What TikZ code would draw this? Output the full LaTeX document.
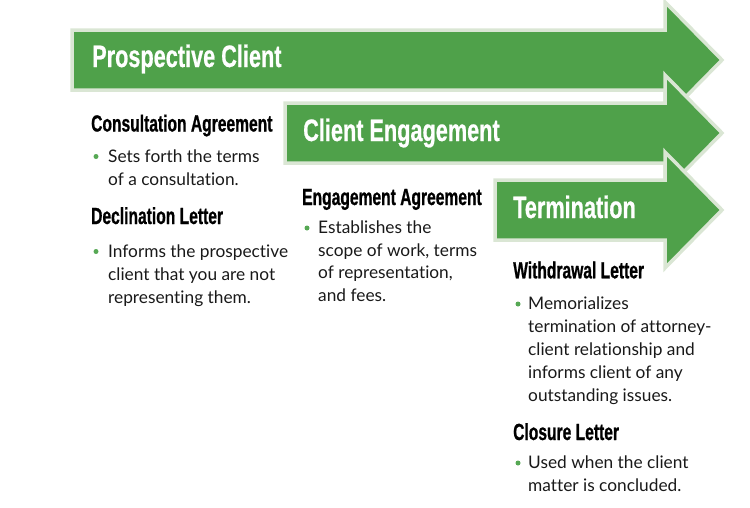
\documentclass[tikz,border=0pt]{standalone}
\usepackage{fontspec}
\setmainfont{Lato}[Ligatures={NoCommon}]
\newfontfamily\headfont{Liberation Sans}[UprightFont={* Bold},FakeStretch=0.70,FakeBold=0.6]
\newfontfamily\subfont{Liberation Sans}[UprightFont={* Bold},FakeStretch=0.67,FakeBold=0.8]
\definecolor{agreen}{RGB}{79,161,74}
\definecolor{aborder}{RGB}{218,230,212}
\definecolor{dotgreen}{RGB}{86,168,84}
\definecolor{txt}{RGB}{25,25,25}
\tikzset{
  arrowshape/.style={fill=agreen, draw=aborder, line width=3.5pt, line join=miter},
  titletext/.style={anchor=base west, inner sep=0pt, text=white, font=\headfont\fontsize{31}{31}\selectfont},
  headtext/.style={anchor=base west, inner sep=0pt, text=black, font=\subfont\fontsize{23.3}{23.3}\selectfont},
  bodytext/.style={anchor=base west, inner sep=0pt, text=txt, align=left, font=\fontsize{17.3}{22.8}\selectfont},
  bdot/.style={circle, fill=dotgreen, inner sep=0pt, minimum size=5pt}
}
\begin{document}
\begin{tikzpicture}[x=1pt,y=-1pt]
\useasboundingbox (0,0) rectangle (750,507);
% arrows
\draw[arrowshape] (72,30) -- (665,30) -- (665,2) -- (722,60) -- (665,118) -- (665,90) -- (72,90) -- cycle;
\draw[arrowshape] (285,103) -- (665,103) -- (665,75) -- (722,133) -- (665,191) -- (665,163) -- (285,163) -- cycle;
\draw[arrowshape] (495,180) -- (665,180) -- (665,152) -- (722,210) -- (665,268) -- (665,240) -- (495,240) -- cycle;
\node[titletext] (t1) at (92,67) {Prospective Client};
\node[titletext] (t2) at (303,141) {Client Engagement};
\node[titletext] (t3) at (513,218) {Termination};
% column 1
\node[headtext] (h1) at (91,131.5) {Consultation Agreement};
\node[bdot] (d1) at (96,156.5) {};
\node[bodytext] (b1) at (108,185) {Sets forth the terms\\of a consultation.};
\node[headtext] (h2) at (91,224) {Declination Letter};
\node[bdot] (d2) at (96,251.5) {};
\node[bodytext] (b2) at (108,303) {Informs the prospective\\client that you are not\\representing them.};
% column 2
\node[headtext] (h3) at (302,205) {Engagement Agreement};
\node[bdot] (d3) at (307,228) {};
\node[bodytext] (b3) at (318,301.7) {Establishes the\\scope of work, terms\\of representation,\\and fees.};
% column 3
\node[headtext] (h4) at (513,278.3) {Withdrawal Letter};
\node[bdot] (d4) at (518,304) {};
\node[bodytext] (b4) at (528,401) {Memorializes\\termination of attorney-\\client relationship and\\informs client of any\\outstanding issues.};
\node[headtext] (h5) at (513,440) {Closure Letter};
\node[bdot] (d5) at (518,463) {};
\node[bodytext] (b5) at (528,491) {Used when the client\\matter is concluded.};
\end{tikzpicture}
\end{document}
